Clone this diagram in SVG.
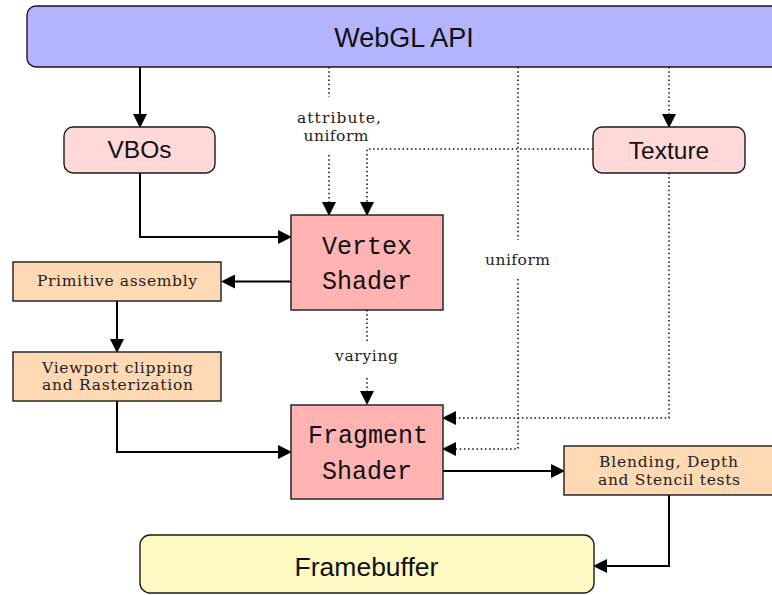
<svg xmlns="http://www.w3.org/2000/svg" width="772" height="595" viewBox="0 0 772 595">
  <style>
    .box { stroke: #1a1a1a; stroke-width: 1.4; }
    .api { fill: #b3b3ff; }
    .res { fill: #ffd9da; }
    .shader { fill: #ffb3b3; }
    .stage { fill: #ffd9b3; }
    .fb { fill: #fff9c2; }
    .sans { font-family: "Liberation Sans", Arial, sans-serif; fill: #111; text-anchor: middle; }
    .mono { font-family: "Liberation Mono", "Courier New", monospace; font-size: 25px; fill: #111; text-anchor: middle; }
    .serif { font-family: "DejaVu Serif", "Liberation Serif", serif; font-size: 15.5px; fill: #222; text-anchor: middle; }
    .solid { fill: none; stroke: #000; stroke-width: 2; marker-end: url(#head); }
    .dot { fill: none; stroke: #111; stroke-width: 1.5; stroke-dasharray: 1.5 2.7; }
    .dot-arrow { fill: none; stroke: #111; stroke-width: 1.5; stroke-dasharray: 1.5 2.7; marker-end: url(#head); }
  </style>
  <defs>
    <!-- latex-style filled arrowhead; tip sits 6px past the path end -->
    <marker id="head" markerUnits="userSpaceOnUse" markerWidth="14" markerHeight="14"
            viewBox="0 0 12 12" refX="6" refY="6" orient="auto">
      <path d="M0,0 L12,6 L0,12 Z" fill="#000"/>
    </marker>
  </defs>

  <rect width="772" height="595" fill="#fff"/>

  <!-- connectors -->
  <g id="connectors">
    <!-- API -> VBOs -->
    <path class="solid" d="M140,67 V121"/>
    <!-- API -> Vertex Shader (attribute, uniform) -->
    <path class="dot" d="M329,67 V97"/>
    <path class="dot-arrow" d="M329,155 V209"/>
    <!-- API -> Texture -->
    <path class="dot-arrow" d="M669,67 V121"/>
    <!-- Texture -> Vertex Shader -->
    <path class="dot-arrow" d="M593,149 H367 V209"/>
    <!-- API -> Fragment Shader (uniform) -->
    <path class="dot" d="M518,67 V240"/>
    <path class="dot-arrow" d="M518,279 V449 H449"/>
    <!-- Texture -> Fragment Shader -->
    <path class="dot-arrow" d="M669,173 V418 H449"/>
    <!-- VBOs -> Vertex Shader -->
    <path class="solid" d="M140,173 V237 H285"/>
    <!-- Vertex Shader -> Primitive assembly -->
    <path class="solid" d="M291,281.5 H228"/>
    <!-- Primitive assembly -> Viewport clipping -->
    <path class="solid" d="M117,301 V346"/>
    <!-- Viewport clipping -> Fragment Shader -->
    <path class="solid" d="M117,401 V452 H285"/>
    <!-- Vertex Shader -> Fragment Shader (varying) -->
    <path class="dot" d="M367,310 V341"/>
    <path class="dot-arrow" d="M367,378 V398"/>
    <!-- Fragment Shader -> Blending -->
    <path class="solid" d="M443,471 H558"/>
    <!-- Blending -> Framebuffer -->
    <path class="solid" d="M669,495 V566 H600"/>

    <!-- edge labels -->
    <text class="serif" x="339" y="123" textLength="84" lengthAdjust="spacing">attribute,</text>
    <text class="serif" x="336" y="141" textLength="65" lengthAdjust="spacing">uniform</text>
    <text class="serif" x="517.5" y="265" textLength="65" lengthAdjust="spacing">uniform</text>
    <text class="serif" x="366.5" y="361" textLength="63" lengthAdjust="spacing">varying</text>
  </g>

  <g id="webgl-api">
    <rect class="box api" x="27" y="6" width="770" height="61" rx="9"/>
    <text class="sans" x="404" y="47" font-size="27">WebGL API</text>
  </g>

  <g id="vbos">
    <rect class="box res" x="64" y="127" width="151" height="46" rx="9"/>
    <text class="sans" x="139.5" y="158" font-size="24.5">VBOs</text>
  </g>

  <g id="texture">
    <rect class="box res" x="593" y="127" width="152" height="46" rx="9"/>
    <text class="sans" x="669" y="159" font-size="24.5">Texture</text>
  </g>

  <g id="vertex-shader">
    <rect class="box shader" x="291" y="215" width="152" height="95"/>
    <text class="mono" x="367" y="254">Vertex</text>
    <text class="mono" x="367" y="289">Shader</text>
  </g>

  <g id="primitive-assembly">
    <rect class="box stage" x="13" y="262" width="208" height="39"/>
    <text class="serif" x="117" y="286" textLength="160" lengthAdjust="spacing">Primitive assembly</text>
  </g>

  <g id="viewport-clipping">
    <rect class="box stage" x="13" y="352" width="208" height="49"/>
    <text class="serif" x="117.5" y="373" textLength="151" lengthAdjust="spacing">Viewport clipping</text>
    <text class="serif" x="117.5" y="390" textLength="151" lengthAdjust="spacing">and Rasterization</text>
  </g>

  <g id="fragment-shader">
    <rect class="box shader" x="291" y="405" width="152" height="94"/>
    <text class="mono" x="368" y="443">Fragment</text>
    <text class="mono" x="367" y="479">Shader</text>
  </g>

  <g id="blending">
    <rect class="box stage" x="564" y="446" width="230" height="49"/>
    <text class="serif" x="668.5" y="467" textLength="139" lengthAdjust="spacing">Blending, Depth</text>
    <text class="serif" x="669" y="485" textLength="142" lengthAdjust="spacing">and Stencil tests</text>
  </g>

  <g id="framebuffer">
    <rect class="box fb" x="140" y="535" width="454" height="58" rx="10"/>
    <text class="sans" x="366.5" y="576" font-size="26.5">Framebuffer</text>
  </g>
</svg>
